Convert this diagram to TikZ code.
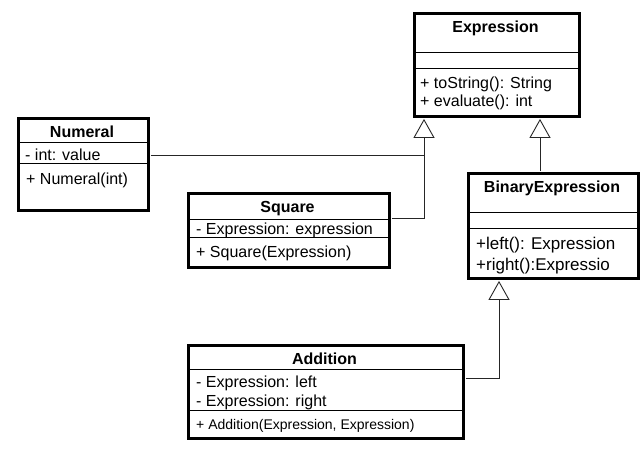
\documentclass[tikz,border=0pt]{standalone}
\usepackage{fontspec}
\setmainfont{Liberation Sans}
\usetikzlibrary{arrows.meta,calc}
\tikzset{
  umlbox/.style={draw=black, line width=2.6pt, fill=white, rectangle, inner sep=0pt, anchor=north west},
  divider/.style={draw=black, line width=0.9pt},
  ttl/.style={font=\fontsize{16}{19}\selectfont\bfseries, inner sep=0pt, text height=12pt, text depth=0pt},
  mem/.style={font=\fontsize{16}{19}\selectfont, inner sep=0pt, anchor=west, text height=12pt, text depth=0pt},
  conn/.style={draw=black!85, line width=0.9pt},
  gen/.style={conn, -{Triangle[open, width=21pt, length=19pt, line width=0.9pt]}}
}
\begin{document}
\begin{tikzpicture}[x=1pt,y=-1pt]
\useasboundingbox[fill=white] (0,0) rectangle (644,450);

% Expression
\node[umlbox, minimum width=165pt, minimum height=103pt] (expr) at (413,12) {};
\draw[divider] (413,52) -- (578,52);
\draw[divider] (413,68) -- (578,68);
\node[ttl] (exprT) at (495.5,26) {Expression};
\node[mem] (exprM1) at (420,82) {+ toString(): String};
\node[mem] (exprM2) at (420,100) {+ evaluate(): int};

% Numeral
\node[umlbox, minimum width=130pt, minimum height=92pt] (num) at (17,117) {};
\draw[divider] (17,142) -- (147,142);
\draw[divider] (17,163) -- (147,163);
\node[ttl] (numT) at (82,131) {Numeral};
\node[mem] (numA1) at (25,154) {- int: value};
\node[mem] (numM1) at (26,178) {+ Numeral(int)};

% Square
\node[umlbox, minimum width=201pt, minimum height=74pt] (sq) at (187,192) {};
\draw[divider] (187,219) -- (388,219);
\draw[divider] (187,237) -- (388,237);
\node[ttl] (sqT) at (287.5,206) {Square};
\node[mem] (sqA1) at (196,228) {- Expression: expression};
\node[mem] (sqM1) at (196,251) {+ Square(Expression)};

% BinaryExpression
\node[umlbox, minimum width=170pt, minimum height=105pt] (bin) at (467,172) {};
\draw[divider] (467,212) -- (637,212);
\draw[divider] (467,228) -- (637,228);
\node[ttl] (binT) at (552,186) {BinaryExpression};
\node[mem, font=\fontsize{17}{20}\selectfont] (binM1) at (476,243) {+left(): Expression};
\node[mem, font=\fontsize{17}{20}\selectfont] (binM2) at (476,264) {+right():Expressio};

% Addition
\node[umlbox, minimum width=275pt, minimum height=93pt] (add) at (187,344) {};
\draw[divider] (187,369) -- (462,369);
\draw[divider] (187,410) -- (462,410);
\node[ttl] (addT) at (324.5,358) {Addition};
\node[mem] (addA1) at (196,381) {- Expression: left};
\node[mem] (addA2) at (196,400) {- Expression: right};
\node[mem, font=\fontsize{14}{17}\selectfont] (addM1) at (196,423) {+ Addition(Expression, Expression)};

% connectors
\coordinate (trunkTop) at ($(expr.south west)+(11,1.3)$);
\coordinate (sqOut) at ($(sq.north east)+(1.3,26)$);
\coordinate (numOut) at ($(num.north east)+(1.3,38)$);
\coordinate (binIn) at ($(bin.north west)+(73,-1.3)$);
\coordinate (exprR) at ($(expr.south west)+(127,1.3)$);
\coordinate (addOut) at ($(add.north east)+(1.3,34)$);
\coordinate (binB) at ($(bin.south west)+(32,1.3)$);

\draw[gen] (sqOut) -| (trunkTop);
\draw[conn] (numOut) -- (numOut -| trunkTop);
\draw[gen] (binIn) -- (exprR);
\draw[gen] (addOut) -| (binB);
\end{tikzpicture}
\end{document}
